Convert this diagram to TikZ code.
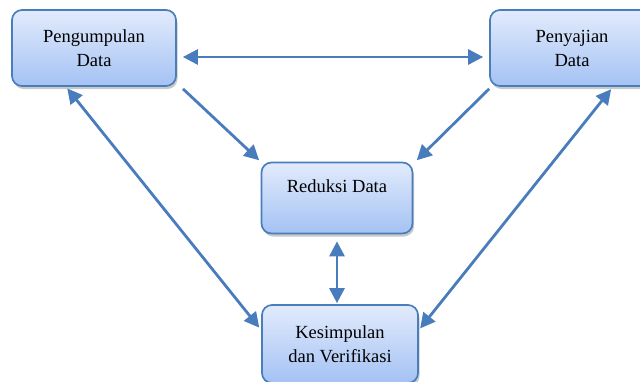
\documentclass[tikz,border=0pt]{standalone}
\usepackage{fontspec}
\setmainfont{Liberation Serif}
\usetikzlibrary{arrows.meta,shadows}
\definecolor{boxline}{RGB}{74,126,187}
\definecolor{boxtop}{RGB}{226,235,252}
\definecolor{boxbottom}{RGB}{164,194,244}
\definecolor{arrowblue}{RGB}{72,124,189}

\begin{document}
\begin{tikzpicture}[x=1pt, y=-1pt,
		box/.style={draw=boxline, line width=1.7pt, rounded corners=10pt,
			top color=boxtop, bottom color=boxbottom, align=center,
			font=\fontsize{18.5}{24}\selectfont,
			drop shadow={shadow xshift=1.5pt, shadow yshift=-3pt, opacity=.3, fill=black!70}},
		link/.style={draw=arrowblue, line width=2.8pt,
			-{Triangle[length=15pt, width=15pt]}},
		twolink/.style={link, {Triangle[length=15pt, width=15pt]}-{Triangle[length=15pt, width=15pt]}}]
	%%%%% START %%%%%
	
	\useasboundingbox (0, 0) rectangle (640, 381);
	
	\node[box, minimum width=164pt, minimum height=76pt] (kumpul) at (94, 48) {Pengumpulan\\Data};
	\node[box, minimum width=164pt, minimum height=76pt] (saji) at (572, 48) {Penyajian\\Data};
	\node[box, minimum width=151pt, minimum height=71pt] (reduksi) at (337, 198) {Reduksi Data\\\mbox{}};
	\node[box, minimum width=156pt, minimum height=78pt] (simpul) at (340, 344) {Kesimpulan\\dan Verifikasi};
	
	\draw[twolink, shorten <=6pt, shorten >=6pt] ([yshift=-9pt]kumpul.east) -- ([yshift=-9pt]saji.west);
	
	\draw[link, shorten <=3pt, shorten >=2pt] ([xshift=4pt]kumpul.south east) -- (reduksi.north west);
	\draw[link, shorten >=2pt] ([yshift=-2pt]saji.south west) -- ([xshift=2pt]reduksi.north east);
	
	\draw[twolink, shorten <=7pt, shorten >=1pt] (reduksi.south) -- (reduksi.south |- simpul.north);
	
	\draw[twolink, shorten <=2pt, shorten >=3pt] ([xshift=-28pt]kumpul.south) -- ([yshift=14pt]simpul.west);
	\draw[twolink, shorten <=3pt, shorten >=2pt] ([xshift=41pt]saji.south) -- ([yshift=14pt]simpul.east);
	
	%%%%% END %%%%%
\end{tikzpicture}
\end{document}
